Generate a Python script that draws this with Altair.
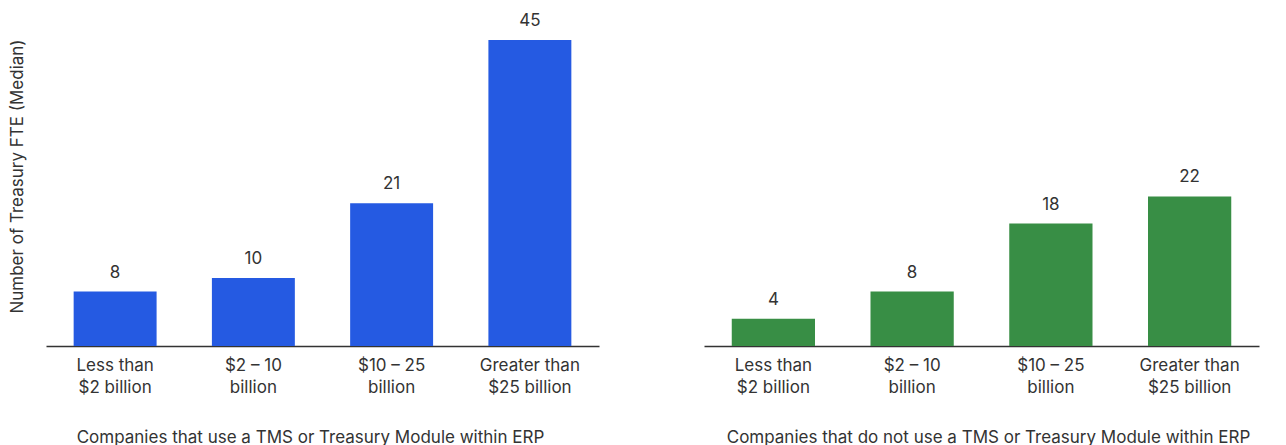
import altair as alt
import pandas as pd

categories = ["Less than|$2 billion", "$2 – 10|billion", "$10 – 25|billion", "Greater than|$25 billion"]
with_tms = [8, 10, 21, 45]
without_tms = [4, 8, 18, 22]
titles = ["Companies that use a TMS or Treasury Module within ERP",
          "Companies that do not use a TMS or Treasury Module within ERP"]
colors = ["#255AE2", "#388E45"]
y_title = "Number of Treasury FTE (Median)"
FONT = "Inter"
TXT = "#333333"


def panel(values, color, title, show_y, width, title_x):
    df = pd.DataFrame({"cat": categories, "val": values})
    x = alt.X(
        "cat:N", sort=categories,
        scale=alt.Scale(paddingInner=0.4, paddingOuter=0.2),
        axis=alt.Axis(title=title, labelAngle=0, labelExpr="split(datum.label, '|')",
                      ticks=False, domainColor=TXT, domainWidth=1.5,
                      labelFontSize=17, labelColor=TXT, labelPadding=11,
                      labelLineHeight=22, labelFont=FONT,
                      titleFont=FONT, titleFontSize=17, titleFontWeight="normal",
                      titleColor=TXT, titlePadding=34, titleX=title_x),
    )
    if show_y:
        yaxis = alt.Axis(title=y_title, labels=False, ticks=False, domain=False, grid=False,
                         titleFont=FONT, titleFontSize=17, titleFontWeight="normal",
                         titleColor=TXT, titlePadding=20)
    else:
        yaxis = None
    y = alt.Y("val:Q", scale=alt.Scale(domain=[0, 50]), axis=yaxis)
    base = alt.Chart(df).encode(x=x, y=y)
    bars = base.mark_bar(color=color)
    labels = base.mark_text(baseline="bottom", dy=-10, fontSize=17, font=FONT, color=TXT).encode(
        text="val:Q")
    return (bars + labels).properties(width=width, height=340)


left = panel(with_tms, colors[0], titles[0], True, 553, 264)
right = panel(without_tms, colors[1], titles[1], False, 555, 284)

chart = alt.hconcat(left, right, spacing=105).properties(
    padding={"left": 8, "top": 6, "right": 5, "bottom": 0}
).configure_view(stroke=None)

chart.save("out.html", embed_options={"renderer": "svg", "actions": False})
